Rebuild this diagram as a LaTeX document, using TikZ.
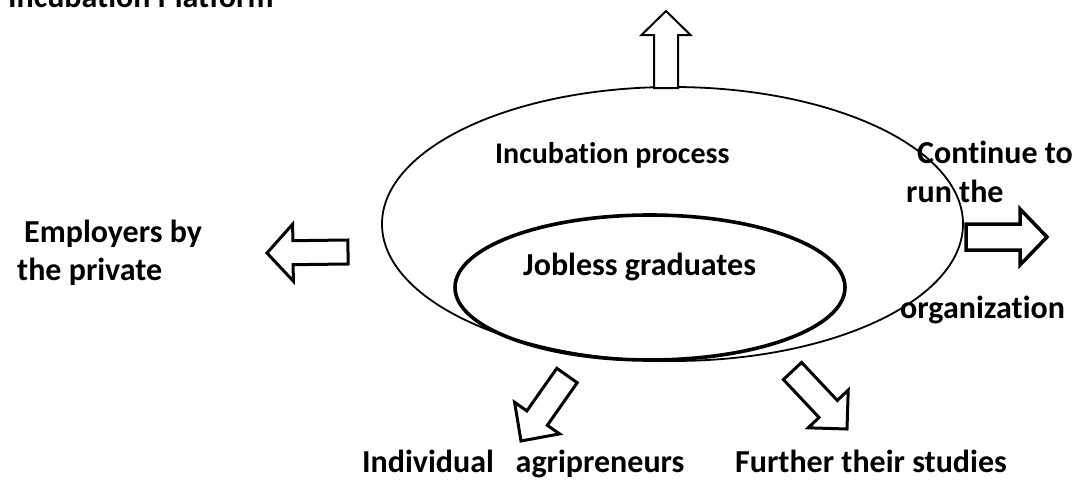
\documentclass[tikz,border=0pt]{standalone}
\usepackage{fontspec}
\setmainfont[Ligatures=NoCommon]{Carlito}
\usetikzlibrary{calc,shapes.geometric}
\tikzset{
  lbl/.style={anchor=base west, inner sep=0pt, font=\fontsize{32}{38}\selectfont\bfseries},
  lblsm/.style={lbl, font=\fontsize{30}{36}\selectfont\bfseries},
  ring/.style={draw, ellipse, inner sep=0pt, outer sep=0pt},
  blk/.style={draw, fill=white, line join=miter},
}
\newcommand\blockarr[6]{%
  \coordinate (hb) at ($(#2)!#5!(#1)$);
  \draw[blk, line width=#6]
    ($(#1)!#3!90:(#2)$) -- ($(hb)!#3!90:(#2)$) -- ($(hb)!#4!90:(#2)$) -- (#2)
    -- ($(hb)!#4!-90:(#2)$) -- ($(hb)!#3!-90:(#2)$) -- ($(#1)!#3!-90:(#2)$) -- cycle;
}
\begin{document}
\begin{tikzpicture}[x=1pt,y=-1pt]
\useasboundingbox (0,0) rectangle (1073,479);
\clip (0,0) rectangle (1073,479);
% ellipses
\node[ring, line width=1.8pt, minimum width=581pt, minimum height=274pt] (outer) at (672.5,224) {};
\node[ring, line width=3.6pt, minimum width=390pt, minimum height=145pt] (inner) at (650,287.5) {};
% arrow tails and tips
\coordinate (upT) at (666,88);   \coordinate (upP) at (666,11);
\coordinate (lfT) at (348,252);  \coordinate (lfP) at (267,253);
\coordinate (rtT) at (966,237);  \coordinate (rtP) at (1047,237);
\coordinate (dlT) at (567,375.5);\coordinate (dlP) at (521,441);
\coordinate (drT) at (792.5,371);\coordinate (drP) at (847,429);
\blockarr{upT}{upP}{12pt}{24.5pt}{24pt}{2pt}
\blockarr{lfT}{lfP}{12pt}{28.5pt}{26pt}{3pt}
\blockarr{rtT}{rtP}{13pt}{28pt}{27pt}{3.5pt}
\blockarr{dlT}{dlP}{12.5pt}{27.5pt}{28pt}{3pt}
\blockarr{drT}{drP}{12.5pt}{27.5pt}{27.5pt}{3pt}
% texts
\node[lbl] (title) at (8,7) {Incubation Platform};
\node[lblsm] (proc) at (495,163) {Incubation process};
\node[lbl] (cont1) at (917,163) {Continue to};
\node[lbl] (cont2) at (906,202) {run the};
\node[lbl] (cont3) at (900,318) {organization};
\node[lbl] (emp1) at (24,242) {Employers by};
\node[lbl] (emp2) at (17,280) {the private};
\node[lbl] (job) at (523,275) {Jobless graduates};
\node[lbl] (ind) at (362,472) {Individual\ \ \ agripreneurs};
\node[lbl] (fur) at (735,472) {Further their studies};
\end{tikzpicture}
\end{document}
